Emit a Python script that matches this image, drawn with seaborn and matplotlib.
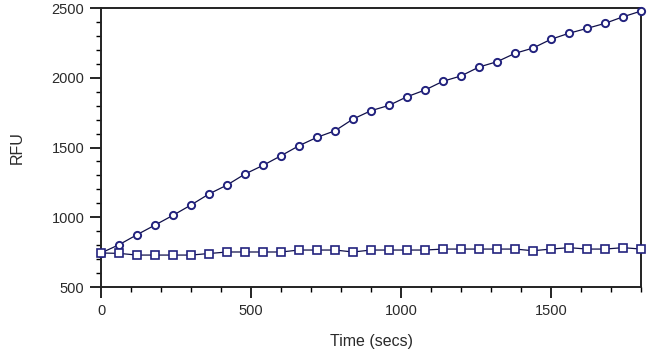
import pandas as pd
import matplotlib
matplotlib.use("Agg")
import matplotlib.pyplot as plt
import seaborn as sns
from matplotlib.ticker import MultipleLocator

# Time points (secs), one reading each minute
time_secs = [0, 60, 120, 180, 240, 300, 360, 420, 480, 540, 600, 660, 720, 780, 840,
             900, 960, 1020, 1080, 1140, 1200, 1260, 1320, 1380, 1440, 1500, 1560,
             1620, 1680, 1740, 1800]

# Rising series (circles)
rfu_circle = [744, 803, 875, 944, 1014, 1088, 1167, 1231, 1310, 1372, 1441, 1513,
              1573, 1620, 1704, 1764, 1802, 1864, 1912, 1975, 2013, 2077, 2115,
              2175, 2213, 2276, 2319, 2354, 2390, 2437, 2478]

# Flat series (squares)
rfu_square = [744, 741, 729, 729, 729, 729, 740, 751, 751, 751, 751, 765, 765, 765,
              751, 765, 765, 765, 765, 772, 772, 772, 772, 772, 760, 772, 782, 772,
              772, 782, 772]

df = pd.DataFrame({"time": time_secs, "circle": rfu_circle, "square": rfu_square})

sns.set_style("ticks")
plt.rcParams['font.family'] = ['Liberation Sans', 'DejaVu Sans']

navy = '#22227e'

fig = plt.figure(figsize=(6.5, 3.56), dpi=100)
ax = fig.add_axes([0.1554, 0.1938, 0.8308, 0.7837])

sns.lineplot(data=df, x="time", y="circle", ax=ax, color='#10104a', linewidth=0.9,
             marker='o', markersize=5.2, markerfacecolor='white',
             markeredgecolor=navy, markeredgewidth=1.4, clip_on=False, zorder=5)
sns.lineplot(data=df, x="time", y="square", ax=ax, color='#10104a', linewidth=0.9,
             marker='s', markersize=5.2, markerfacecolor='white',
             markeredgecolor=navy, markeredgewidth=1.2, clip_on=False, zorder=5)

ax.set_xlim(0, 1800)
ax.set_ylim(500, 2500)
ax.xaxis.set_major_locator(MultipleLocator(500))
ax.xaxis.set_minor_locator(MultipleLocator(100))
ax.yaxis.set_major_locator(MultipleLocator(500))
ax.yaxis.set_minor_locator(MultipleLocator(100))

ax.tick_params(axis='both', which='major', direction='out', length=8, width=1.2,
               labelsize=10.5, colors='black', labelcolor='#2a2a2a', pad=4)
ax.tick_params(axis='both', which='minor', direction='out', length=3.5, width=1.0,
               colors='black')
ax.tick_params(top=False, right=False, which='both')

for sp in ax.spines.values():
    sp.set_visible(True)
    sp.set_linewidth(1.4)
    sp.set_color('#222222')

ax.set_xlabel('Time (secs)', fontsize=11.5, color='#2a2a2a', labelpad=12)
ax.set_ylabel('RFU', fontsize=11.5, color='#2a2a2a', labelpad=19)

fig.savefig('out.png', dpi=100)
